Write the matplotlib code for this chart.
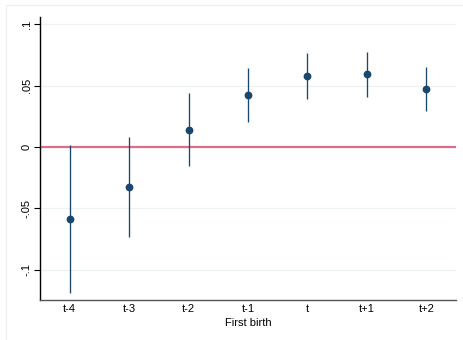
import matplotlib.pyplot as plt
from matplotlib.patches import Rectangle

plt.rcParams['font.family'] = ['Liberation Sans', 'DejaVu Sans']

# Event-time coefficients around first birth, with 95% CIs
periods = ["t-4", "t-3", "t-2", "t-1", "t", "t+1", "t+2"]
coef = [-0.0587, -0.0328, 0.0139, 0.0423, 0.0580, 0.0593, 0.0475]
ci_low = [-0.1193, -0.0736, -0.0153, 0.0202, 0.0394, 0.0410, 0.0296]
ci_high = [0.0020, 0.0083, 0.0440, 0.0644, 0.0764, 0.0772, 0.0655]

yticks = [-0.1, -0.05, 0, 0.05, 0.1]
ytick_labels = ["-.1", "-.05", "0", ".05", ".1"]

navy = "#1a476f"

fig = plt.figure(figsize=(4.64, 3.40), dpi=100)
fig.patch.set_facecolor("white")

# light outer frame
fig.add_artist(Rectangle((6 / 464, -0.01), 1.1, 1 - 5 / 340 + 0.01,
                         transform=fig.transFigure, fill=False,
                         edgecolor="#edf1f1", linewidth=1.0))

ax = fig.add_axes([40 / 464, 1 - 300 / 340, 416 / 464, 283 / 340])

x = list(range(1, len(periods) + 1))

ax.set_yticks(yticks)
ax.set_yticklabels(ytick_labels, rotation=90, va="center", fontsize=8)
for yv in yticks:
    ax.axhline(yv, color="#edf2f2", linewidth=0.9, zorder=0)

ax.axhline(0, color="#dc6e8c", linewidth=1.6, zorder=1)

ax.vlines(x, ci_low, ci_high, color=navy, linewidth=0.95, zorder=2)
ax.plot(x, coef, "o", color=navy, markersize=4.6, zorder=3)

ax.set_xlim(0.5, 7.5)
ax.set_ylim(-0.1248, 0.106)
ax.set_xticks(x)
ax.set_xticklabels(periods, fontsize=8)
ax.tick_params(axis="x", length=0, pad=3)
ax.tick_params(axis="y", length=4, width=0.8, pad=2)
ax.set_xlabel("First birth", fontsize=8, labelpad=2.5)

for side in ("top", "right"):
    ax.spines[side].set_visible(False)
ax.spines["left"].set_color("black")
ax.spines["left"].set_linewidth(1.0)
ax.spines["bottom"].set_color("#555555")
ax.spines["bottom"].set_linewidth(1.0)

fig.savefig("out.png", dpi=100)
